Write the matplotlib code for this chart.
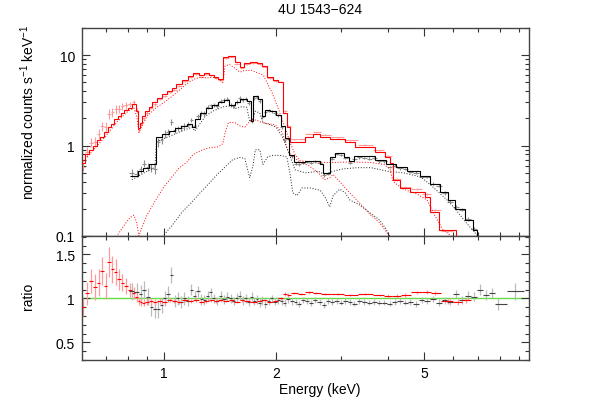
import numpy as np
import matplotlib
matplotlib.use('Agg')
import matplotlib.pyplot as plt
from matplotlib.ticker import FixedLocator, FixedFormatter, NullFormatter, MultipleLocator

plt.rcParams['font.family'] = ['Liberation Sans', 'DejaVu Sans']
plt.rcParams['mathtext.fontset'] = 'custom'
plt.rcParams['mathtext.rm'] = 'Liberation Sans'
plt.rcParams['mathtext.it'] = 'Liberation Sans'

title = "4U 1543\u2212624"
xlabel = "Energy (keV)"
ylabel_top = "normalized counts s$^{-1}$ keV$^{-1}$"
ylabel_bot = "ratio"
xticks = [1, 2, 5]
xtick_labels = ["1", "2", "5"]
xminor = [0.7, 0.8, 0.9, 3, 4, 6, 7, 8, 9]
yticks_top = [0.1, 1, 10]
ytick_labels_top = ["0.1", "1", "10"]
yticks_bot = [0.5, 1, 1.5]
ytick_labels_bot = ["0.5", "1", "1.5"]

# ---------------- red model (histogram) ----------------
red_model_edges = [0.600, 0.615, 0.630, 0.645, 0.660, 0.675, 0.690, 0.705, 0.720, 0.735,
                   0.750, 0.765, 0.780, 0.800, 0.820, 0.840, 0.850, 0.862, 0.875, 0.890,
                   0.910, 0.930, 0.960, 0.990, 1.020, 1.050, 1.080, 1.120, 1.160, 1.200,
                   1.240, 1.280, 1.320, 1.360, 1.400, 1.440, 1.490, 1.550, 1.600, 1.640,
                   1.700, 1.780, 1.840, 1.890, 1.960, 2.030, 2.090, 2.140, 2.180, 2.390,
                   2.515, 2.630, 2.790, 3.070, 3.260, 3.690, 3.930, 4.050, 4.130, 4.310,
                   4.580, 5.030, 5.190, 5.500, 6.100, 6.300]
red_model = [0.65, 0.80, 0.90, 0.98, 1.15, 1.25, 1.40, 1.60, 1.75, 1.95,
             2.10, 2.30, 2.45, 2.60, 2.85, 2.4, 1.55, 1.8, 2.1, 2.4,
             2.7, 3.0, 3.4, 3.7, 4.0, 4.3, 4.8, 5.3, 5.9, 6.3,
             6.0, 6.4, 6.1, 5.8, 5.4, 9.6, 9.8, 8.4, 7.4, 8.2,
             8.5, 8.2, 7.6, 5.8, 5.3, 5.1, 2.3, 1.6, 1.11, 1.26,
             1.33, 1.26, 1.17, 1.11, 0.975, 0.86, 0.75, 0.65, 0.42, 0.34,
             0.31, 0.27, 0.185, 0.117, 0.05]

# ---------------- black model (histogram) ----------------
blk_model_edges = [0.810, 0.850, 0.880, 0.910, 0.950, 0.990, 1.030, 1.070, 1.110, 1.150,
                   1.190, 1.215, 1.250, 1.300, 1.350, 1.400, 1.450, 1.500, 1.550, 1.600,
                   1.670, 1.710, 1.740, 1.790, 1.830, 1.870, 1.930, 2.000, 2.060, 2.110,
                   2.170, 2.230, 2.400, 2.620, 2.680, 2.800, 2.880, 3.050, 3.150, 3.250,
                   3.350, 3.700, 3.950, 4.200, 4.500, 4.880, 5.200, 5.520, 5.800, 6.060,
                   6.440, 6.770, 6.940, 7.100]
blk_model = [0.46, 0.52, 0.57, 0.63, 1.25, 1.35, 1.45, 1.55, 1.65, 1.75,
             1.6, 1.95, 2.3, 2.6, 2.8, 3.0, 3.2, 2.8, 3.0, 3.3,
             3.1, 1.85, 3.5, 3.3, 2.1, 2.5, 2.4, 2.2, 1.65, 1.2,
             0.78, 0.66, 0.68, 0.62, 0.50, 0.75, 0.83, 0.75, 0.68, 0.76,
             0.76, 0.70, 0.62, 0.58, 0.53, 0.46, 0.38, 0.31, 0.25, 0.20,
             0.15, 0.117, 0.05]

# ---------------- red data ----------------
red_E = [0.607, 0.622, 0.637, 0.652, 0.667, 0.682, 0.697, 0.712, 0.727, 0.742,
         0.757, 0.772, 0.790, 0.810, 0.830, 0.845, 0.856, 0.868, 0.882, 0.900,
         0.920, 0.945, 0.975, 1.005, 1.035, 1.065, 1.100, 1.140, 1.180, 1.220,
         1.260, 1.300, 1.340, 1.380, 1.420, 1.465, 1.520, 1.575, 1.620, 1.670,
         1.740, 1.810, 1.865, 1.925, 1.995, 2.060, 2.115, 2.160, 2.240, 2.340,
         2.450, 2.570, 2.710, 2.930, 3.170, 3.470, 3.810, 3.990, 4.220, 4.440,
         4.800, 5.110, 5.350, 5.800, 6.170, 6.500]
red_counts = [0.585, 0.85, 1.08, 1.11, 1.36, 1.64, 1.60, 2.26, 2.33, 2.54,
              2.56, 2.71, 2.79, 2.86, 3.02, 2.45, 1.50, 1.73, 2.00, 2.30,
              2.62, 2.88, 3.30, 3.55, 3.92, 4.17, 4.60, 5.20, 5.70, 6.20,
              5.76, 6.20, 5.98, 5.63, 5.30, 9.30, 9.60, 8.06, 7.25, 7.95,
              8.16, 7.95, 7.45, 5.57, 5.14, 5.10, 2.40, 1.66, 1.18, 1.17,
              1.35, 1.41, 1.32, 1.23, 1.15, 1.02, 0.89, 0.77, 0.43, 0.35,
              0.33, 0.29, 0.196, 0.113, 0.09, 0.07]
red_ratio = [0.90, 1.06, 1.20, 1.13, 1.18, 1.31, 1.14, 1.41, 1.33, 1.30,
             1.22, 1.18, 1.14, 1.10, 1.06, 1.02, 0.97, 0.96, 0.95, 0.96,
             0.97, 0.96, 0.97, 0.96, 0.98, 0.97, 0.96, 0.98, 0.97, 0.98,
             0.96, 0.97, 0.98, 0.97, 0.98, 0.97, 0.98, 0.96, 0.98, 0.97,
             0.96, 0.97, 0.98, 0.96, 0.97, 1.00, 1.05, 1.04, 1.06, 1.05,
             1.07, 1.06, 1.05, 1.05, 1.04, 1.05, 1.04, 1.03, 1.03, 1.04,
             1.07, 1.07, 1.06, 0.97, 0.96, 0.98]
red_ratio_err = [0.10, 0.13, 0.14, 0.15, 0.15, 0.16, 0.15, 0.17, 0.15, 0.15,
                 0.12, 0.10, 0.09, 0.08, 0.07, 0.06, 0.05, 0.05, 0.04, 0.04,
                 0.04, 0.035, 0.03, 0.03, 0.025, 0.025, 0.025, 0.02, 0.02, 0.02,
                 0.02, 0.02, 0.02, 0.02, 0.02, 0.015, 0.015, 0.015, 0.015, 0.015,
                 0.015, 0.015, 0.015, 0.015, 0.015, 0.015, 0.02, 0.02, 0.015, 0.015,
                 0.015, 0.015, 0.015, 0.015, 0.015, 0.015, 0.015, 0.02, 0.02, 0.02,
                 0.02, 0.025, 0.025, 0.03, 0.03, 0.03]

# ---------------- black data ----------------
blk_E = [0.820, 0.845, 0.865, 0.885, 0.905, 0.925, 0.945, 0.965, 0.985, 1.005,
         1.025, 1.045, 1.070, 1.090, 1.110, 1.135, 1.160, 1.185, 1.210, 1.235,
         1.260, 1.285, 1.310, 1.335, 1.360, 1.390, 1.420, 1.450, 1.480, 1.510,
         1.540, 1.570, 1.600, 1.630, 1.660, 1.690, 1.720, 1.750, 1.780, 1.810,
         1.840, 1.870, 1.910, 1.950, 1.990, 2.030, 2.070, 2.110, 2.160, 2.210,
         2.260, 2.310, 2.370, 2.430, 2.490, 2.550, 2.620, 2.690, 2.760, 2.830,
         2.910, 2.990, 3.070, 3.160, 3.250, 3.350, 3.450, 3.560, 3.670, 3.790,
         3.910, 4.040, 4.170, 4.310, 4.450, 4.600, 4.760, 4.930, 5.100, 5.290,
         5.480, 5.680, 5.890, 6.100, 6.330, 6.570, 6.830, 7.080, 7.350, 7.620,
         7.920, 8.800]
blk_counts = [0.50, 0.49, 0.55, 0.63, 0.58, 0.57, 0.55, 1.10, 1.15, 1.35,
              1.42, 1.84, 1.50, 1.55, 1.58, 1.65, 1.70, 1.93, 1.65, 2.10,
              2.28, 2.25, 2.68, 2.78, 2.80, 2.72, 3.09, 3.17, 3.26, 2.80,
              2.72, 3.03, 3.40, 3.23, 3.30, 2.98, 1.89, 3.40, 3.47, 3.14,
              2.06, 2.35, 2.43, 2.40, 2.30, 2.16, 1.60, 1.14, 1.19, 0.76,
              0.63, 0.62, 0.65, 0.66, 0.65, 0.67, 0.65, 0.47, 0.49, 0.72,
              0.81, 0.79, 0.73, 0.65, 0.71, 0.74, 0.73, 0.72, 0.73, 0.67,
              0.67, 0.58, 0.60, 0.56, 0.55, 0.51, 0.50, 0.45, 0.45, 0.38,
              0.36, 0.30, 0.24, 0.21, 0.196, 0.155, 0.119, 0.09, 0.075, 0.06,
              0.045, 0.03]
blk_ratio = [1.08, 1.07, 1.05, 1.10, 1.02, 0.90, 0.88, 0.88, 0.92, 1.00,
             1.05, 1.27, 0.97, 1.00, 0.96, 1.00, 0.97, 1.10, 1.03, 1.08,
             0.99, 0.98, 1.03, 1.07, 1.00, 0.97, 1.03, 0.99, 1.02, 1.00,
             0.97, 1.01, 1.03, 0.98, 1.00, 0.96, 1.02, 0.97, 0.99, 0.95,
             0.98, 0.94, 0.97, 1.00, 0.96, 0.98, 0.97, 0.95, 0.99, 0.97,
             0.96, 0.94, 0.98, 0.97, 0.95, 0.98, 0.96, 0.93, 0.97, 0.96,
             0.97, 0.95, 0.97, 0.96, 0.94, 0.97, 0.96, 0.95, 0.96, 0.95,
             0.95, 0.94, 0.96, 0.97, 0.95, 0.96, 0.94, 0.98, 0.97, 0.99,
             0.95, 0.98, 0.96, 1.05, 0.98, 1.03, 1.02, 1.10, 1.04, 1.06,
             0.94, 1.08]
blk_ratio_err = [0.10, 0.10, 0.10, 0.10, 0.10, 0.10, 0.10, 0.10, 0.09, 0.09,
                 0.09, 0.09, 0.07, 0.07, 0.07, 0.07, 0.06, 0.06, 0.06, 0.06,
                 0.06, 0.06, 0.06, 0.05, 0.05, 0.05, 0.05, 0.05, 0.05, 0.05,
                 0.05, 0.05, 0.05, 0.05, 0.05, 0.05, 0.05, 0.05, 0.05, 0.05,
                 0.05, 0.05, 0.04, 0.04, 0.04, 0.04, 0.04, 0.04, 0.04, 0.04,
                 0.035, 0.035, 0.035, 0.035, 0.035, 0.035, 0.035, 0.035, 0.035, 0.035,
                 0.03, 0.03, 0.03, 0.03, 0.03, 0.03, 0.03, 0.03, 0.03, 0.03,
                 0.03, 0.03, 0.03, 0.03, 0.03, 0.03, 0.035, 0.035, 0.035, 0.035,
                 0.04, 0.04, 0.04, 0.045, 0.045, 0.05, 0.05, 0.06, 0.06, 0.06,
                 0.07, 0.10]

# ---------------- model components (dotted) ----------------
redA_E = [0.60, 0.65, 0.70, 0.75, 0.80, 0.83, 0.845, 0.856, 0.87, 0.90,
          0.95, 1.00, 1.05, 1.10, 1.15, 1.20, 1.25, 1.30, 1.35, 1.40,
          1.44, 1.46, 1.50, 1.55, 1.60, 1.65, 1.72, 1.80, 1.85, 1.90,
          1.95, 2.02, 2.11, 2.18, 2.25, 2.32, 2.50, 2.80, 3.20, 3.60,
          3.90, 4.05, 4.13, 4.40, 4.80, 5.10, 5.30, 5.60, 6.00]
redA = [0.64, 0.92, 1.30, 1.85, 2.40, 2.60, 2.10, 1.40, 1.60, 2.10,
        2.60, 3.00, 3.50, 4.10, 4.80, 5.40, 5.70, 5.60, 5.70, 5.50,
        5.00, 7.60, 7.90, 7.20, 6.50, 6.80, 6.80, 6.30, 6.00, 4.80,
        3.90, 2.70, 1.63, 1.10, 0.80, 0.68, 0.66, 0.65, 0.66, 0.65,
        0.62, 0.55, 0.40, 0.33, 0.29, 0.25, 0.18, 0.12, 0.095]
redB_E = [0.745, 0.78, 0.81, 0.83, 0.845, 0.856, 0.87, 0.90, 0.95, 1.00,
          1.05, 1.10, 1.15, 1.20, 1.27, 1.33, 1.40, 1.44, 1.46, 1.49,
          1.55, 1.60, 1.65, 1.72, 1.78, 1.83, 1.90, 1.99, 2.08, 2.15,
          2.22, 2.32, 2.45, 2.60, 2.70, 2.79, 2.85, 3.00, 3.16, 3.40,
          3.60, 3.80, 4.00, 4.15]
redB = [0.098, 0.13, 0.16, 0.17, 0.14, 0.10, 0.12, 0.17, 0.25, 0.35,
        0.45, 0.57, 0.65, 0.80, 0.90, 0.95, 0.97, 1.05, 1.40, 1.80,
        1.80, 1.65, 1.60, 1.95, 1.90, 1.80, 1.75, 1.70, 1.40, 0.90,
        0.75, 0.66, 0.60, 0.50, 0.42, 0.44, 0.48, 0.38, 0.30, 0.22,
        0.17, 0.14, 0.105, 0.09]
blkA_E = [0.82, 0.90, 0.945, 0.955, 1.00, 1.05, 1.14, 1.19, 1.21, 1.25,
          1.29, 1.35, 1.40, 1.45, 1.52, 1.55, 1.62, 1.67, 1.70, 1.73,
          1.76, 1.81, 1.845, 1.93, 2.00, 2.08, 2.15, 2.25, 2.40, 2.60,
          2.70, 2.85, 3.00, 3.30, 3.60, 4.00, 4.40, 4.90, 5.20, 5.50,
          5.80, 6.10, 6.40, 6.80, 7.00]
blkA = [0.42, 0.52, 0.57, 1.10, 1.20, 1.30, 1.50, 1.60, 1.45, 1.75,
        2.10, 2.40, 2.55, 2.70, 2.75, 2.55, 2.70, 2.65, 1.85, 1.90,
        2.40, 2.30, 1.80, 1.70, 1.60, 1.26, 0.90, 0.54, 0.50, 0.52,
        0.48, 0.52, 0.55, 0.57, 0.57, 0.52, 0.50, 0.45, 0.37, 0.30,
        0.245, 0.195, 0.15, 0.113, 0.098]
blkB_E = [0.99, 1.05, 1.12, 1.18, 1.25, 1.32, 1.39, 1.46, 1.53, 1.60,
          1.65, 1.70, 1.735, 1.76, 1.81, 1.845, 1.90, 1.96, 2.05, 2.14,
          2.18, 2.22, 2.28, 2.35, 2.47, 2.63, 2.71, 2.79, 2.85, 2.97,
          3.07, 3.16, 3.36, 3.58, 3.80, 3.95, 4.05]
blkB = [0.098, 0.13, 0.185, 0.23, 0.30, 0.38, 0.48, 0.58, 0.70, 0.74,
        0.72, 0.44, 0.60, 0.90, 0.90, 0.62, 0.75, 0.78, 0.78, 0.75,
        0.50, 0.30, 0.28, 0.34, 0.34, 0.32, 0.27, 0.21, 0.28, 0.33,
        0.30, 0.25, 0.22, 0.18, 0.15, 0.12, 0.098]


def half_widths(e):
    e = np.asarray(e, float)
    mids = np.sqrt(e[1:] * e[:-1])
    lo = np.concatenate([[e[0] ** 2 / mids[0]], mids])
    hi = np.concatenate([mids, [e[-1] ** 2 / mids[-1]]])
    return np.vstack([e - lo, hi - e])


fig = plt.figure(figsize=(5.98, 4.02), dpi=100)
L, W = 82 / 598, (529 - 82) / 598
ax1 = fig.add_axes([L, 1 - 237 / 402, W, (237 - 29) / 402])
ax2 = fig.add_axes([L, 1 - 361 / 402, W, (361 - 237) / 402])

RED = '#ff0000'
RED_L = '#ff9a9a'
GRAY = '#8c8c8c'
GRAY_L = '#bbbbbb'

rE = np.asarray(red_E); rC = np.asarray(red_counts)
rR = np.asarray(red_ratio); rRe = np.asarray(red_ratio_err)
bE = np.asarray(blk_E); bC = np.asarray(blk_counts)
bR = np.asarray(blk_ratio); bRe = np.asarray(blk_ratio_err)

# upper panel
ax1.errorbar(rE, rC, xerr=half_widths(rE), yerr=rC * rRe / rR, fmt='none',
             ecolor=RED_L, elinewidth=0.8, capsize=0, zorder=2)
ax1.errorbar(bE, bC, xerr=half_widths(bE), yerr=bC * bRe / bR, fmt='none',
             ecolor=GRAY, elinewidth=0.8, capsize=0, zorder=2)
dot = (0, (1, 1.8))
ax1.plot(redA_E, redA, color=RED, lw=0.7, ls=dot, zorder=3)
ax1.plot(redB_E, redB, color=RED, lw=0.7, ls=dot, zorder=3)
ax1.plot(blkA_E, blkA, color='#222222', lw=0.7, ls=dot, zorder=3)
ax1.plot(blkB_E, blkB, color='#222222', lw=0.7, ls=dot, zorder=3)
ax1.stairs(red_model, red_model_edges, color=RED, lw=0.8, baseline=None, zorder=4)
ax1.stairs(blk_model, blk_model_edges, color='black', lw=0.8, baseline=None, zorder=4)
ax1.set_yscale('log')
ax1.set_ylim(0.1, 20)

# lower panel
ax2.axhline(1.0, color='#66dd44', lw=1.0, zorder=1)
ax2.errorbar(bE, bR, yerr=bRe, fmt='none', ecolor=GRAY_L, elinewidth=0.9, capsize=0, zorder=2)
ax2.errorbar(rE, rR, yerr=rRe, fmt='none', ecolor=RED_L, elinewidth=0.9, capsize=0, zorder=2)
ax2.errorbar(bE, bR, xerr=half_widths(bE), fmt='none', ecolor='#444444', elinewidth=0.8, capsize=0, zorder=3)
ax2.errorbar(rE, rR, xerr=half_widths(rE), fmt='none', ecolor=RED, elinewidth=0.8, capsize=0, zorder=3)
ax2.set_ylim(0.3, 1.71)

for ax in (ax1, ax2):
    ax.set_xscale('log')
    ax.set_xlim(0.602, 9.58)
    ax.xaxis.set_major_locator(FixedLocator(xticks))
    ax.xaxis.set_minor_locator(FixedLocator(xminor))
    ax.xaxis.set_minor_formatter(NullFormatter())
    ax.tick_params(which='both', direction='in', top=True, right=True,
                   width=0.8, colors='#333333', labelcolor='black', labelsize=10, pad=5)
    ax.tick_params(which='major', length=6)
    ax.tick_params(which='minor', length=3)
    for s in ax.spines.values():
        s.set_color('#444444')
        s.set_linewidth(1.0)

ax1.xaxis.set_major_formatter(NullFormatter())
ax2.xaxis.set_major_formatter(FixedFormatter(xtick_labels))
ax1.yaxis.set_major_locator(FixedLocator(yticks_top))
ax1.yaxis.set_major_formatter(FixedFormatter(ytick_labels_top))
ax1.yaxis.set_minor_locator(FixedLocator([v * m for v in (0.1, 1, 10) for m in range(2, 10)]))
ax1.yaxis.set_minor_formatter(NullFormatter())
ax2.yaxis.set_major_locator(FixedLocator(yticks_bot))
ax2.yaxis.set_major_formatter(FixedFormatter(ytick_labels_bot))
ax2.yaxis.set_minor_locator(MultipleLocator(0.1))
ax2.tick_params(axis='x', pad=4)

ax1.set_ylabel(ylabel_top, fontsize=10)
ax1.yaxis.set_label_coords(-0.10, 0.60)
ax2.set_ylabel(ylabel_bot, fontsize=10)
ax2.yaxis.set_label_coords(-0.105, 0.52)
ax2.set_xlabel(xlabel, fontsize=10, va='top')
ax2.xaxis.set_label_coords(0.532, -0.18)
fig.text(320 / 598, 1 - 3 / 402, title, ha='center', va='top', fontsize=10)

fig.savefig('out.png', dpi=100)
